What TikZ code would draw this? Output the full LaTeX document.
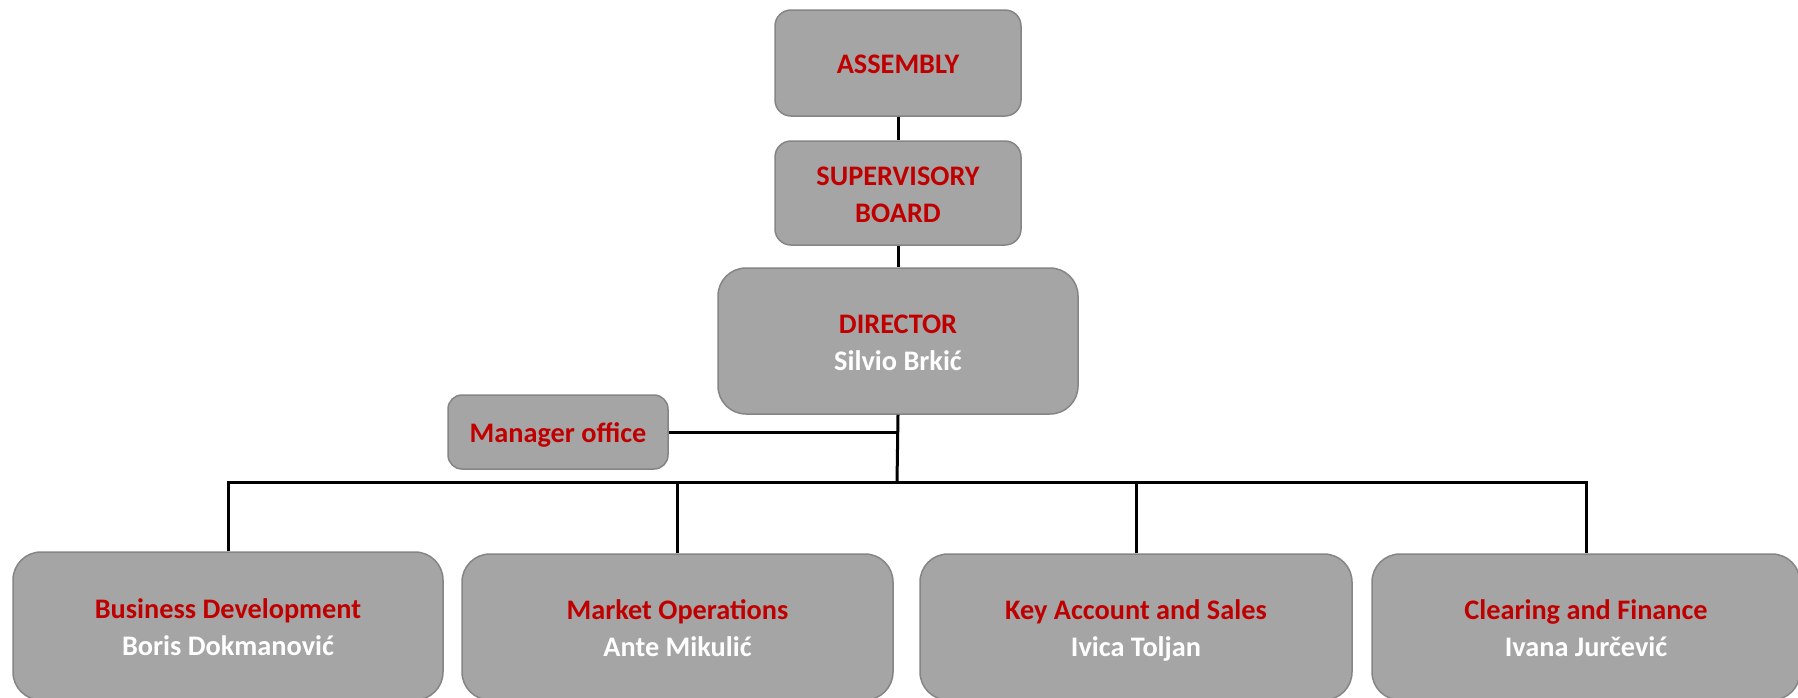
\documentclass[tikz,border=0pt]{standalone}
\usepackage{fontspec}
\setmainfont{Carlito}
\definecolor{boxfill}{HTML}{A5A5A5}
\definecolor{boxline}{HTML}{858585}
\definecolor{txtred}{HTML}{C00000}
\newcommand{\st}{\rule[-8pt]{0pt}{37pt}}
\newcommand{\nm}[1]{\textcolor{white}{#1}\st}
\begin{document}
\begin{tikzpicture}[x=1pt,y=-1pt,
  orgbox/.style={draw=boxline, line width=1.5pt, fill=boxfill, rounded corners=#1,
    align=center, inner sep=0pt, font=\fontsize{28.3}{37}\selectfont\bfseries, text=txtred},
  orgbox/.default=16pt,
  conn/.style={line width=3pt, black, line join=miter}]
\useasboundingbox (0,0) rectangle (1798,697);
\fill[white] (0,0) rectangle (1798,697);
\node[orgbox, minimum width=246pt, minimum height=106pt] (asm) at (898,63) {ASSEMBLY\st};
\node[orgbox, minimum width=246pt, minimum height=104pt] (sup) at (898,193) {SUPERVISORY\st\\BOARD\st};
\node[orgbox=28pt, minimum width=360pt, minimum height=146pt] (dir) at (898,341) {DIRECTOR\st\\\nm{Silvio Brkić}};
\node[orgbox=14pt, minimum width=220pt, minimum height=74pt] (mgr) at (558,432) {Manager office\st};
\node[orgbox=28pt, minimum width=430pt, minimum height=148pt] (bd) at (228,626) {Business Development\st\\\nm{Boris Dokmanović}};
\node[orgbox=28pt, minimum width=431pt, minimum height=146pt] (mo) at (677.5,627) {Market Operations\st\\\nm{Ante Mikulić}};
\node[orgbox=28pt, minimum width=432pt, minimum height=146pt] (ka) at (1136,627) {Key Account and Sales\st\\\nm{Ivica Toljan}};
\node[orgbox=28pt, minimum width=428pt, minimum height=146pt] (cf) at (1586,627) {Clearing and Finance\st\\\nm{Ivana Jurčević}};
\coordinate (busc) at (897,482);
\draw[conn] (asm.south) -- (sup.north);
\draw[conn] (sup.south) -- (dir.north);
\draw[conn] (dir.south) -- (busc);
\draw[conn] (mgr.east) -- (mgr.east -| dir.south);
\draw[conn] (bd.north) |- (busc) -| (cf.north);
\draw[conn] (mo.north) -- (mo.north |- busc);
\draw[conn] (ka.north) -- (ka.north |- busc);
\end{tikzpicture}
\end{document}
